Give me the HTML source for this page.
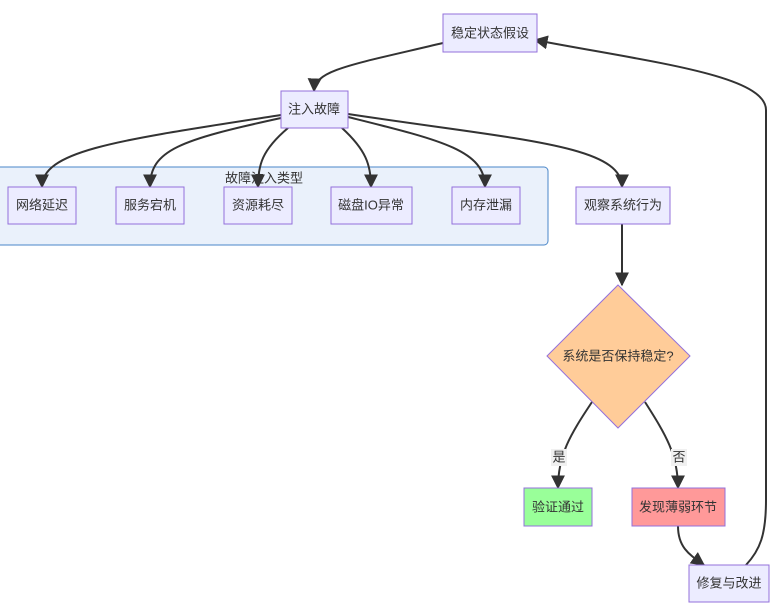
<!DOCTYPE html>
<html><head><meta charset="utf-8"><style>
body{margin:0;background:#fff;}
svg{display:block;font-family:"Liberation Sans","Noto Sans CJK SC",sans-serif;}
.n{fill:#ececff;stroke:#9370db;stroke-width:1;}
.e{fill:none;stroke:#333;stroke-width:2;}
text{font-size:13px;fill:#333;text-anchor:middle;dominant-baseline:central;}
</style></head><body>
<svg width="779" height="608" viewBox="0 0 779 608">
<defs><marker id="a" viewBox="0 0 10 10" refX="9" refY="5" markerWidth="7" markerHeight="7" orient="auto"><path d="M0,0L10,5L0,10z" fill="#333"/></marker></defs>
<rect x="-5" y="167" width="553" height="78" rx="4" fill="#eaf1fb" stroke="#4a86c8" stroke-width="1"/>
<text x="264" y="178">故障注入类型</text>
<path class="e" marker-end="url(#a)" d="M443,43 C350,65 315,70 314,91"/>
<path class="e" marker-end="url(#a)" d="M281,115 C120,140 42,150 42,187"/>
<path class="e" marker-end="url(#a)" d="M281,118 C180,140 150,150 150,187"/>
<path class="e" marker-end="url(#a)" d="M288,128 C262,150 258,165 258,187"/>
<path class="e" marker-end="url(#a)" d="M342,128 C366,150 371,165 371,187"/>
<path class="e" marker-end="url(#a)" d="M348,117 C440,140 485,150 485,187"/>
<path class="e" marker-end="url(#a)" d="M348,114 C520,140 622,145 622,187"/>
<path class="e" marker-end="url(#a)" d="M622,224 L622,285"/>
<path class="e" marker-end="url(#a)" d="M592,402 C570,435 558,455 558,488"/>
<path class="e" marker-end="url(#a)" d="M645,402 C666,435 678,455 678,488"/>
<path class="e" marker-end="url(#a)" d="M678,526 C678,548 690,555 704,565"/>
<path class="e" marker-end="url(#a)" d="M746,565 C760,550 766,535 766,500 L766,110 C766,75 650,62 535,40"/>
<rect class="n" x="443" y="14" width="94" height="38"/><text x="490" y="33">稳定状态假设</text>
<rect class="n" x="281" y="91" width="67" height="37"/><text x="314" y="109">注入故障</text>
<rect class="n" x="8" y="187" width="68" height="37"/><text x="42" y="205">网络延迟</text>
<rect class="n" x="116" y="187" width="68" height="37"/><text x="150" y="205">服务宕机</text>
<rect class="n" x="224" y="187" width="68" height="37"/><text x="258" y="205">资源耗尽</text>
<rect class="n" x="331" y="187" width="81" height="37"/><text x="371" y="205">磁盘IO异常</text>
<rect class="n" x="452" y="187" width="68" height="37"/><text x="486" y="205">内存泄漏</text>
<rect class="n" x="576" y="187" width="94" height="37"/><text x="623" y="205">观察系统行为</text>
<path d="M618,285 L690,356 L618,428 L547,356 Z" fill="#ffcc99" stroke="#9370db"/>
<text x="618" y="356">系统是否保持稳定?</text>
<rect x="551" y="449" width="16" height="17" fill="#f0f0f0"/><text x="559" y="457">是</text>
<rect x="671" y="449" width="16" height="17" fill="#f0f0f0"/><text x="679" y="457">否</text>
<rect x="524" y="488" width="68" height="38" fill="#99ff99" stroke="#9370db"/><text x="558" y="507">验证通过</text>
<rect x="632" y="488" width="93" height="38" fill="#ff9999" stroke="#9370db"/><text x="678" y="507">发现薄弱环节</text>
<rect class="n" x="689" y="565" width="80" height="37"/><text x="729" y="583">修复与改进</text>
</svg>
</body></html>
